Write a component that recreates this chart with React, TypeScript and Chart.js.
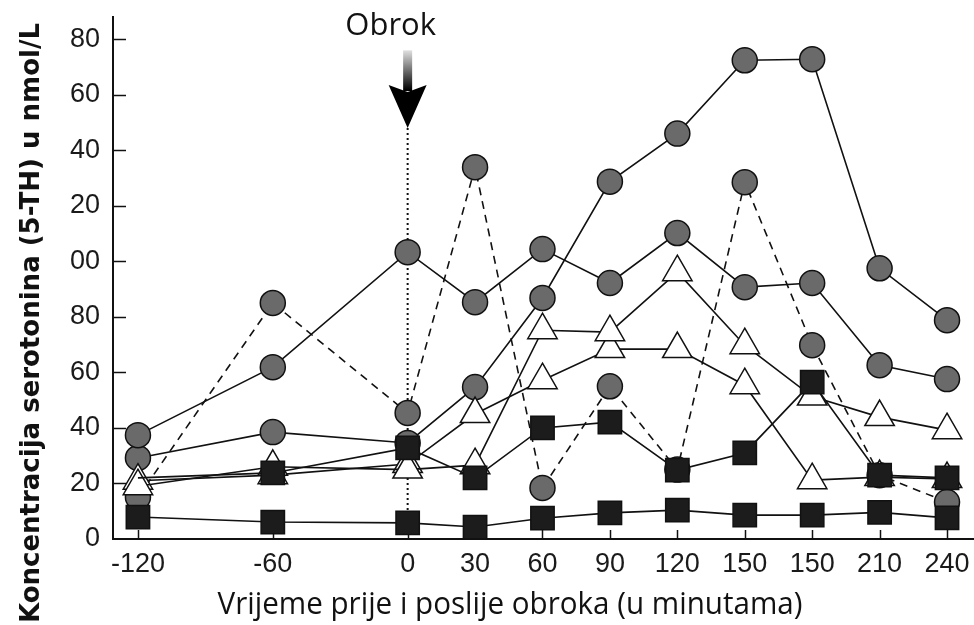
import React, { useEffect, useRef } from 'react';
import { Chart, registerables } from 'chart.js';

Chart.register(...registerables);

// ---- data ----
const minutes = [-120, -60, 0, 30, 60, 90, 120, 150, 180, 210, 240];
const xTickLabels = ['-120', '-60', '0', '30', '60', '90', '120', '150', '150', '210', '240'];
const yTickValues = [0, 20, 40, 60, 80, 100, 120, 140, 160, 180];
const yTickLabels = ['0', '20', '40', '60', '80', '00', '20', '40', '60', '80'];

const circlesSolidA = [37.4, 61.9, 103.3, 85.3, 104.4, 92.2, 110.2, 90.7, 92.2, 62.6, 57.6];
const circlesSolidB = [29.2, 38.5, 34.6, 54.7, 86.8, 128.7, 146, 172.4, 172.8, 97.5, 78.8];
const circlesDashed = [15, 85, 45.4, 133.9, 18.4, 55, 25, 128.5, 69.8, 23, 13.3];
const trianglesA = [19, 26, 25, 26.6, 75.2, 74.5, 96.1, 69.8, 51.3, 43.9, 39.2];
const trianglesB = [21, 23, 27, 45, 57.2, 68.4, 68.4, 55.4, 21.2, 22.3, 21.6];
const squaresA = [22, 23.8, 32.8, 22, 40, 42.1, 24.8, 31, 56.5, 23, 22];
const squaresB = [7.9, 6.1, 5.8, 4.3, 7.5, 9.4, 10.4, 8.6, 8.6, 9.6, 7.6];

// meal annotation (minute 0), arrow from value 176 down to 148
const mealMinute = 0;
const mealArrowTop = 176;
const mealArrowTip = 148;

const xTitle = 'Vrijeme prije i poslije obroka (u minutama)';
const yTitle = 'Koncentracija serotonina (5-TH) u nmol/L';
const mealLabel = 'Obrok';

const toPoints = (vals: number[]) => vals.map((v, i) => ({ x: minutes[i], y: v }));

const CIRCLE_FILL = '#6a6a6a';
const SQUARE_FILL = '#1c1c1c';

function drawFitted(
  ctx: CanvasRenderingContext2D,
  text: string,
  font: string,
  targetWidth: number,
  x: number,
  y: number,
  rotate: boolean
) {
  ctx.save();
  ctx.font = font;
  const w = ctx.measureText(text).width;
  const s = targetWidth / w;
  ctx.translate(x, y);
  if (rotate) ctx.rotate(-Math.PI / 2);
  ctx.scale(s, 1);
  ctx.textAlign = 'center';
  ctx.textBaseline = 'alphabetic';
  ctx.fillStyle = '#111';
  ctx.fillText(text, 0, 0);
  ctx.restore();
}

const decorPlugin = {
  id: 'decor',
  beforeDatasetsDraw(chart: any) {
    const { ctx, chartArea, scales } = chart;
    const x = scales.x;
    const y = scales.y;
    ctx.save();
    ctx.strokeStyle = '#111';
    ctx.lineWidth = 1.5;
    yTickValues.forEach((v) => {
      if (v === 0) return;
      const py = Math.round(y.getPixelForValue(v)) + 0.5;
      ctx.beginPath();
      ctx.moveTo(chartArea.left, py);
      ctx.lineTo(chartArea.left + 13, py);
      ctx.stroke();
    });
    minutes.forEach((m) => {
      const px = Math.round(x.getPixelForValue(m)) + 0.5;
      ctx.beginPath();
      ctx.moveTo(px, chartArea.bottom);
      ctx.lineTo(px, chartArea.bottom - 9);
      ctx.stroke();
    });
    // dotted meal line
    const mx = x.getPixelForValue(mealMinute);
    ctx.setLineDash([2, 3]);
    ctx.lineWidth = 2;
    ctx.beginPath();
    ctx.moveTo(mx, y.getPixelForValue(mealArrowTip));
    ctx.lineTo(mx, chartArea.bottom);
    ctx.stroke();
    ctx.restore();
  },
  afterDraw(chart: any) {
    const { ctx, scales } = chart;
    const x = scales.x;
    const y = scales.y;
    const mx = x.getPixelForValue(mealMinute);
    const top = y.getPixelForValue(mealArrowTop);
    const tip = y.getPixelForValue(mealArrowTip);
    const headBase = tip - 43;
    ctx.save();
    const g = ctx.createLinearGradient(0, top, 0, headBase + 5);
    g.addColorStop(0, '#e0e0e0');
    g.addColorStop(1, '#000');
    ctx.fillStyle = g;
    ctx.fillRect(mx - 4.5, top, 9, headBase - top + 6);
    ctx.fillStyle = '#000';
    ctx.beginPath();
    ctx.moveTo(mx, tip);
    ctx.lineTo(mx - 19, headBase);
    ctx.lineTo(mx, headBase + 7);
    ctx.lineTo(mx + 19, headBase);
    ctx.closePath();
    ctx.fill();
    ctx.restore();

    ctx.save();
    ctx.font = '31px "Open Sans"';
    ctx.fillStyle = '#111';
    ctx.textAlign = 'center';
    ctx.textBaseline = 'alphabetic';
    ctx.fillText(mealLabel, mx - 17, 35);
    ctx.restore();

    drawFitted(ctx, xTitle, '31px "Open Sans"', 585, 510, 614, false);
    drawFitted(ctx, yTitle, 'bold 27px "DejaVu Sans"', 600, 39, 323, true);
  },
};

function lineDataset(label: string, data: number[], opts: any) {
  return {
    label,
    data: toPoints(data),
    borderColor: '#111',
    borderWidth: 1.6,
    pointBorderColor: '#111',
    pointBorderWidth: 1.5,
    tension: 0,
    clip: false,
    ...opts,
  };
}

export default function App() {
  const ref = useRef<HTMLCanvasElement | null>(null);

  useEffect(() => {
    if (!ref.current) return;
    const tickFont = { family: '"Liberation Sans", Arial, sans-serif', size: 27 };
    const chart = new Chart(ref.current, {
      type: 'line',
      data: {
        datasets: [
          lineDataset('squaresA', squaresA, {
            pointStyle: 'rect',
            pointRadius: squaresA.map((_, i) => (i === 0 ? 0 : 16.5)),
            pointBackgroundColor: SQUARE_FILL,
          }),
          lineDataset('squaresB', squaresB, {
            pointStyle: 'rect',
            pointRadius: 16.5,
            pointBackgroundColor: SQUARE_FILL,
          }),
          lineDataset('trianglesA', trianglesA, {
            pointStyle: 'triangle',
            pointRadius: 17,
            pointBackgroundColor: '#fff',
          }),
          lineDataset('trianglesB', trianglesB, {
            pointStyle: 'triangle',
            pointRadius: 17,
            pointBackgroundColor: '#fff',
          }),
          lineDataset('circlesSolidA', circlesSolidA, {
            pointStyle: 'circle',
            pointRadius: 12.5,
            pointBackgroundColor: CIRCLE_FILL,
          }),
          lineDataset('circlesSolidB', circlesSolidB, {
            pointStyle: 'circle',
            pointRadius: 12.5,
            pointBackgroundColor: CIRCLE_FILL,
          }),
          lineDataset('circlesDashed', circlesDashed, {
            pointStyle: 'circle',
            pointRadius: 12.5,
            pointBackgroundColor: CIRCLE_FILL,
            borderDash: [8, 6],
          }),
        ],
      },
      options: {
        responsive: false,
        animation: false,
        events: [],
        layout: { autoPadding: false, padding: { top: 17, left: 0, right: 0, bottom: 0 } },
        plugins: {
          legend: { display: false },
          tooltip: { enabled: false },
          title: { display: false },
        },
        scales: {
          x: {
            type: 'linear',
            min: -131.1,
            max: 252,
            afterBuildTicks: (scale: any) => {
              scale.ticks = minutes.map((m) => ({ value: m }));
            },
            afterFit: (scale: any) => {
              scale.height = 86;
              scale.paddingLeft = 0;
              scale.paddingRight = 0;
            },
            grid: { display: false, drawTicks: false },
            border: { display: true, color: '#111', width: 2 },
            ticks: {
              autoSkip: false,
              maxRotation: 0,
              padding: 9,
              color: '#1a1a1a',
              font: tickFont,
              callback: (_v: any, i: number) => xTickLabels[i],
            },
          },
          y: {
            type: 'linear',
            min: 0,
            max: 188,
            afterBuildTicks: (scale: any) => {
              scale.ticks = yTickValues.map((v) => ({ value: v }));
            },
            afterFit: (scale: any) => {
              scale.width = 113;
              scale.paddingTop = 0;
              scale.paddingBottom = 0;
            },
            grid: { display: false, drawTicks: false },
            border: { display: true, color: '#111', width: 2 },
            ticks: {
              padding: 13,
              color: '#1a1a1a',
              font: tickFont,
              callback: (_v: any, i: number) => yTickLabels[i],
            },
          },
        },
      },
      plugins: [decorPlugin],
    });
    return () => chart.destroy();
  }, []);

  return (
    <div style={{ position: 'absolute', left: 0, top: 0, width: 974, height: 625, background: '#fff' }}>
      <canvas ref={ref} width={974} height={625} style={{ display: 'block' }} />
    </div>
  );
}
